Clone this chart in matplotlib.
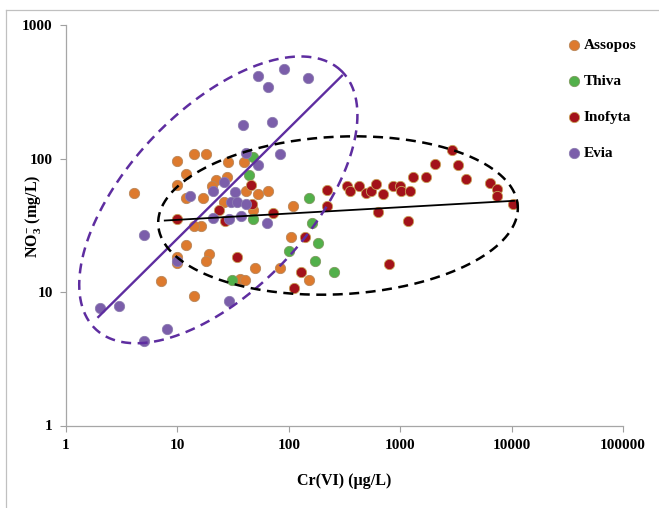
import numpy as np
import matplotlib
matplotlib.use("Agg")
import matplotlib.pyplot as plt
from matplotlib.lines import Line2D

# --- data (Cr(VI) ug/L, NO3 mg/L) ---
assopos_x = [4.1, 10, 14.2, 18, 12, 10, 12, 17, 22, 28.5, 40, 28, 20.4, 26, 41, 53, 65, 48,
             108, 16.4, 14, 12, 9.9, 10, 19.3, 18, 7.1, 14, 50, 36.7, 40.7, 84, 105, 151]
assopos_y = [55, 96, 108, 108, 77, 63.5, 50.5, 50.5, 69, 94, 94, 73, 62, 47.6, 57, 54, 57, 41,
             44, 31, 31.3, 22.5, 18.4, 16.4, 19.3, 17.1, 12.1, 9.4, 15.2, 12.5, 12.2, 15.2, 25.6, 12.2]

thiva_x = [48, 44, 151, 48, 160, 31, 100, 183, 171, 257]
thiva_y = [103.5, 75, 50.5, 35, 33, 12.2, 20.4, 23.2, 17.2, 14.2]

inofyta_x = [46, 47, 23.4, 72, 10, 27, 221, 221, 34, 130, 111, 141, 2940, 2040, 3330, 3870,
             1312, 1692, 6410, 7360, 7360, 10190, 334, 353, 431, 489, 542, 601, 699, 867, 994,
             1009, 1216, 635, 1173, 791]
inofyta_y = [63, 46, 41, 39, 35, 34, 58, 44, 18.2, 14.2, 10.7, 25.7, 116, 91, 89, 70,
             73, 73, 66, 59, 52, 46, 62, 57, 62, 55, 57, 64, 54, 62, 62,
             57, 57, 40, 34, 16.2]

evia_x = [53, 90, 148, 65, 39, 70, 84, 53, 41, 26, 21, 13, 33, 30, 34, 41, 21, 37.5, 64, 29,
          5.0, 2.0, 3.0, 5.0, 8.1, 10, 29]
evia_y = [412, 468, 398, 343, 179, 188, 108, 89, 110, 67, 57, 52, 56, 47, 47, 46, 36, 37, 33, 35,
          26.5, 7.6, 7.9, 4.3, 5.3, 17, 8.6]

# trend lines (end points, data units)
evia_fit_x = [1.95, 300]
evia_fit_y = [6.5, 417]
all_fit_x = [7.7, 10500]
all_fit_y = [34.3, 48.2]

# grouping ellipses: centre, end of one semi-axis, end of the other (data units)
evia_ell = [(23.3, 49), (294, 456), (6.0, 142.6)]
inofyta_ell = [(276.5, 37.4), (11370, 41.6), (293, 146)]

x_ticks = [1, 10, 100, 1000, 10000, 100000]
x_tick_labels = ["1", "10", "100", "1000", "10000", "100000"]
y_ticks = [1, 10, 100, 1000]
y_tick_labels = ["1", "10", "100", "1000"]

series = [
    ("Assopos", assopos_x, assopos_y, "#DD7A2E", "#B9875A"),
    ("Thiva", thiva_x, thiva_y, "#52B04A", "#7E9A5E"),
    ("Inofyta", inofyta_x, inofyta_y, "#A3121A", "#C9A25A"),
    ("Evia", evia_x, evia_y, "#7B5EAA", "#8C7CB0"),
]

PURPLE = "#5E2DA0"
SERIF = "Liberation Serif"
plt.rcParams["font.family"] = SERIF
plt.rcParams["mathtext.fontset"] = "custom"
plt.rcParams["mathtext.rm"] = "Liberation Serif:bold"
plt.rcParams["mathtext.it"] = "Liberation Serif:bold"
plt.rcParams["mathtext.bf"] = "Liberation Serif:bold"


def ellipse_pts(spec, n=300):
    c, a, b = (np.log10(np.asarray(p, float)) for p in spec)
    t = np.linspace(0, 2 * np.pi, n)
    pts = c[:, None] + np.outer(a - c, np.cos(t)) + np.outer(b - c, np.sin(t))
    return 10 ** pts[0], 10 ** pts[1]


fig = plt.figure(figsize=(6.59, 5.08), dpi=100)
ax = fig.add_axes([66 / 659, 1 - 425.5 / 508, 557 / 659, 400.5 / 508])

handles = []
for name, xs, ys, fc, ec in series:
    h = ax.scatter(xs, ys, s=55, c=fc, edgecolors=ec, linewidths=0.6, zorder=2, label=name)
    handles.append(h)

ax.plot(evia_fit_x, evia_fit_y, color=PURPLE, lw=1.7, zorder=3)
ax.plot(all_fit_x, all_fit_y, color="black", lw=1.3, zorder=3)
ex, ey = ellipse_pts(evia_ell)
ax.plot(ex, ey, color=PURPLE, lw=1.8, ls=(0, (4, 2.6)), zorder=3)
ex, ey = ellipse_pts(inofyta_ell)
ax.plot(ex, ey, color="black", lw=1.8, ls=(0, (4, 2.6)), zorder=3)

ax.set_xscale("log")
ax.set_yscale("log")
ax.set_xlim(1, 100000)
ax.set_ylim(1, 1000)
ax.minorticks_off()
ax.set_xticks(x_ticks)
ax.set_xticklabels(x_tick_labels)
ax.set_yticks(y_ticks)
ax.set_yticklabels(y_tick_labels)
ax.tick_params(direction="out", length=4.5, width=0.8, color="#A0A0A0", pad=5,
               labelsize=11)
for lab in ax.get_xticklabels() + ax.get_yticklabels():
    lab.set_fontweight("bold")
for s in ("top", "right"):
    ax.spines[s].set_visible(False)
for s in ("left", "bottom"):
    ax.spines[s].set_color("#A6A6A6")
    ax.spines[s].set_linewidth(0.9)

ax.set_xlabel("Cr(VI) (\u00b5g/L)", fontsize=11.5, fontweight="bold", labelpad=15)
ax.set_ylabel(r"NO$_3^{-}$ (mg/L)", fontsize=11.5, fontweight="bold")
# the reference tucks the y label in between the tick labels
ax.yaxis.label.set_verticalalignment("center")
ax.yaxis.set_label_coords(-0.059, 0.523)

ax.legend(handles=handles, loc="upper left", bbox_to_anchor=(0.892, 0.985), frameon=False,
          prop={"family": SERIF, "weight": "bold", "size": 11}, handlelength=0.5,
          handletextpad=0.35, labelspacing=1.45, borderpad=0, scatterpoints=1)

# chart-area border (only top and left visible in the reference)
fig.add_artist(Line2D([6 / 659, 6 / 659], [0, 1 - 10 / 508], color="#C0C0C0", lw=0.9))
fig.add_artist(Line2D([6 / 659, 1], [1 - 10 / 508, 1 - 10 / 508], color="#C0C0C0", lw=0.9))

fig.savefig("out.png", dpi=100)
